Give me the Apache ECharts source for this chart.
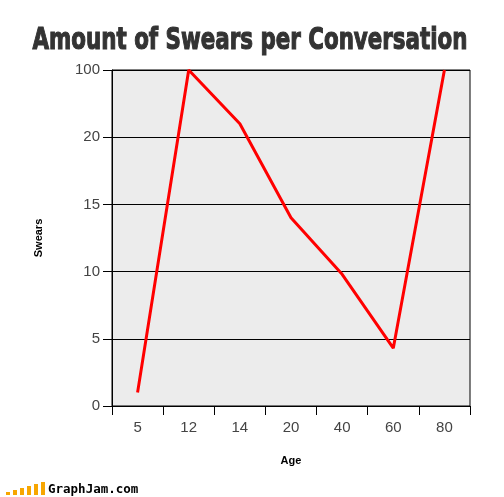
<!DOCTYPE html>
<html><head><meta charset="utf-8">
<script src="https://cdn.jsdelivr.net/npm/echarts@6/dist/echarts.min.js"></script>
<style>html,body{margin:0;padding:0;background:#fff}#c{width:504px;height:497px}</style>
</head><body><div id="c"></div>
<script>
const chartTitle = 'Amount of Swears per Conversation';
const ages = ['5', '12', '14', '20', '40', '60', '80'];
const swears = [1, 25, 21, 14, 9.8, 4.3, 25];
const yTickValues = [0, 5, 10, 15, 20, 25];
const yTickLabels = ['0', '5', '10', '15', '20', '100'];

const chart = echarts.init(document.getElementById('c'));
const logoBars = [3, 5, 7, 9, 11, 13];
const graphics = logoBars.map((h, i) => ({
  type: 'rect', shape: { x: 6 + i * 7, y: 495 - h, width: 4, height: h },
  style: { fill: '#f7a600' }
}));
graphics.push({
  type: 'text', left: 48, top: 483,
  style: { text: 'GraphJam.com', font: 'bold 12.5px "DejaVu Sans Mono", monospace', fill: '#000' }
});
graphics.push({
  type: 'text', x: 250, y: 41, scaleX: 0.69, scaleY: 1,
  style: {
    text: chartTitle, textAlign: 'center', textVerticalAlign: 'middle',
    font: 'bold 31px "DejaVu Sans", sans-serif', fill: '#333',
    stroke: '#333', lineWidth: 1.2,
    shadowColor: 'rgba(0,0,0,0.45)', shadowBlur: 2, shadowOffsetX: 1, shadowOffsetY: 1
  }
});
chart.setOption({
  animation: false,
  grid: {
    left: 112, right: 34, top: 70, bottom: 91,
    show: true, backgroundColor: '#ececec', borderColor: '#000', borderWidth: 1
  },
  xAxis: {
    type: 'category', data: ages, boundaryGap: true,
    name: 'Age', nameLocation: 'middle', nameGap: 49,
    nameTextStyle: { fontFamily: 'Liberation Sans, Arial, sans-serif', fontWeight: 'bold', fontSize: 11, color: '#000' },
    axisLine: { lineStyle: { color: '#000', width: 1 } },
    axisTick: { show: true, length: 9, lineStyle: { color: '#000' } },
    axisLabel: { fontFamily: 'Liberation Sans, Arial, sans-serif', fontSize: 15, color: '#444', margin: 14 }
  },
  yAxis: {
    type: 'value', min: 0, max: 25, interval: 5,
    name: 'Swears', nameLocation: 'middle', nameGap: 68, nameRotate: 90,
    nameTextStyle: { fontFamily: 'Liberation Sans, Arial, sans-serif', fontWeight: 'bold', fontSize: 11, color: '#000' },
    axisLine: { show: true, lineStyle: { color: '#000', width: 1 } },
    axisTick: { show: true, length: 9, lineStyle: { color: '#000' } },
    axisLabel: {
      fontFamily: 'Liberation Sans, Arial, sans-serif', fontSize: 15, color: '#444', margin: 12,
      formatter: v => { const i = yTickValues.indexOf(v); return i >= 0 ? yTickLabels[i] : ''; }
    },
    splitLine: { show: true, lineStyle: { color: '#000', width: 1 } }
  },
  series: [{
    type: 'line', data: swears, showSymbol: false, symbol: 'none',
    lineStyle: { color: '#ff0000', width: 3 }
  }],
  graphic: graphics
});
</script></body></html>
